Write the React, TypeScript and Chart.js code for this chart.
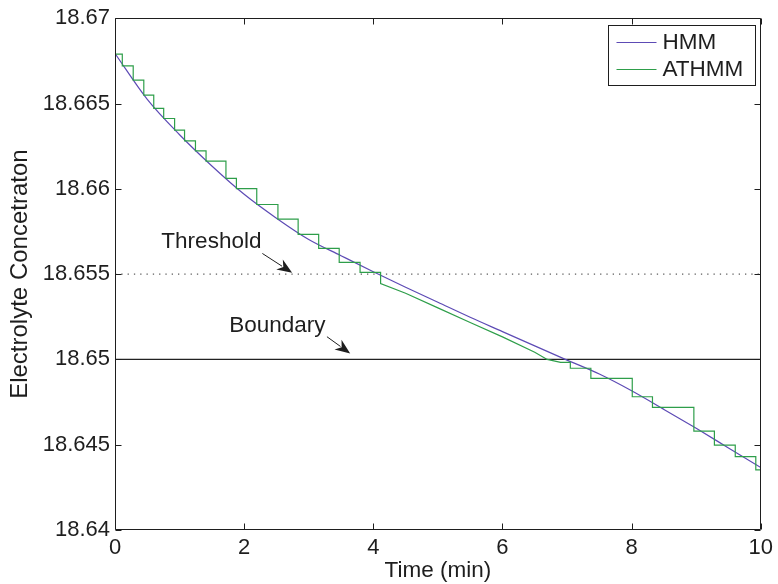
import React, { useEffect, useRef } from 'react';
import { Chart, registerables } from 'chart.js';

Chart.register(...registerables);

// ---------- data ----------
const hmmTime = [0, 0.5, 1, 1.5, 2, 2.5, 3, 3.5, 4, 4.5, 5, 5.5, 6, 6.5, 7, 7.5, 8, 8.5, 9, 9.5, 10];
const hmmValue = [
  18.66793, 18.66524, 18.66317, 18.66134, 18.65968, 18.65828, 18.65703, 18.65608, 18.65514, 18.65423,
  18.65335, 18.65247, 18.65163, 18.65079, 18.64996, 18.64914, 18.64816, 18.64707, 18.64596, 18.64481, 18.64366,
];

// ATHMM, phase 1: sample-and-hold updates (time of update, value after update)
const athmmStep1Time = [0, 0.113, 0.282, 0.446, 0.6, 0.754, 0.923, 1.077, 1.246, 1.41, 1.718, 1.88, 2.195, 2.523, 2.836, 3.154, 3.472, 3.795, 4.113];
const athmmStep1Value = [
  18.6679, 18.66721, 18.66637, 18.66549, 18.66471, 18.66412, 18.66344, 18.66281, 18.66222, 18.66162,
  18.66061, 18.66001, 18.65908, 18.65822, 18.65733, 18.65651, 18.65569, 18.6551, 18.65445,
];
// ATHMM, continuous tracking after the threshold
const athmmTrackTime = [4.5, 5, 5.5, 6, 6.5, 6.692, 6.9, 7.051];
const athmmTrackValue = [18.65388, 18.65302, 18.65216, 18.65132, 18.65042, 18.65, 18.64983, 18.64983];
// ATHMM, phase 2: sample-and-hold updates
const athmmStep2Time = [7.051, 7.369, 8.01, 8.323, 8.964, 9.282, 9.605, 9.923];
const athmmStep2Value = [18.64948, 18.64889, 18.64781, 18.64719, 18.6458, 18.64498, 18.6443, 18.64352];
const timeEnd = 10;

const thresholdValue = 18.655;
const boundaryValue = 18.65;

const xTickValues = [0, 2, 4, 6, 8, 10];
const xTickLabels = ['0', '2', '4', '6', '8', '10'];
const yTickValues = [18.64, 18.645, 18.65, 18.655, 18.66, 18.665, 18.67];
const yTickLabels = ['18.64', '18.645', '18.65', '18.655', '18.66', '18.665', '18.67'];

const seriesNames = ['HMM', 'ATHMM'];

// annotations (data coordinates)
const noteText = ['Threshold', 'Boundary'];
const noteTextTime = [0.718, 1.769];
const noteTextValue = [18.65651, 18.65162];
const noteArrowFromTime = [2.282, 3.282];
const noteArrowFromValue = [18.65621, 18.65133];
const noteArrowToTime = [2.743, 3.642];
const noteArrowToValue = [18.65508, 18.65035];

// ---------- styling ----------
const FONT = '"Liberation Sans", Arial, Helvetica, sans-serif';
const INK = '#1e1e1e';
const HMM_COLOR = '#5d4bb5';
const ATHMM_COLOR = '#2e9e4a';

function buildAthmm() {
  const pts: { x: number; y: number }[] = [];
  let prev = athmmStep1Value[0];
  pts.push({ x: athmmStep1Time[0], y: prev });
  for (let i = 1; i < athmmStep1Time.length; i++) {
    pts.push({ x: athmmStep1Time[i], y: prev });
    pts.push({ x: athmmStep1Time[i], y: athmmStep1Value[i] });
    prev = athmmStep1Value[i];
  }
  for (let i = 0; i < athmmTrackTime.length; i++) {
    pts.push({ x: athmmTrackTime[i], y: athmmTrackValue[i] });
    prev = athmmTrackValue[i];
  }
  for (let i = 0; i < athmmStep2Time.length; i++) {
    pts.push({ x: athmmStep2Time[i], y: prev });
    pts.push({ x: athmmStep2Time[i], y: athmmStep2Value[i] });
    prev = athmmStep2Value[i];
  }
  pts.push({ x: timeEnd, y: prev });
  return pts;
}

const framePlugin = {
  id: 'matlabFrame',
  afterDraw(chart: any) {
    const { ctx, chartArea: a } = chart;
    const xs = chart.scales.x;
    const ys = chart.scales.y;
    const L = Math.round(a.left) + 0.5;
    const R = Math.round(a.right) - 0.5;
    const T = Math.round(a.top) + 0.5;
    const B = Math.round(a.bottom) - 0.5;
    ctx.save();
    ctx.strokeStyle = INK;
    ctx.lineWidth = 1;
    // box
    ctx.beginPath();
    ctx.rect(L, T, R - L, B - T);
    ctx.stroke();
    // inward ticks
    const tl = 6;
    ctx.beginPath();
    xTickValues.forEach((v) => {
      const px = Math.round(xs.getPixelForValue(v)) + 0.5;
      ctx.moveTo(px, B);
      ctx.lineTo(px, B - tl);
      ctx.moveTo(px, T);
      ctx.lineTo(px, T + tl);
    });
    yTickValues.forEach((v) => {
      const py = Math.round(ys.getPixelForValue(v)) + 0.5;
      ctx.moveTo(L, py);
      ctx.lineTo(L + tl, py);
      ctx.moveTo(R, py);
      ctx.lineTo(R - tl, py);
    });
    ctx.stroke();

    // annotations
    ctx.fillStyle = INK;
    ctx.font = `22.5px ${FONT}`;
    ctx.textAlign = 'left';
    ctx.textBaseline = 'alphabetic';
    for (let i = 0; i < noteText.length; i++) {
      ctx.fillText(noteText[i], xs.getPixelForValue(noteTextTime[i]), ys.getPixelForValue(noteTextValue[i]));
      const x0 = xs.getPixelForValue(noteArrowFromTime[i]);
      const y0 = ys.getPixelForValue(noteArrowFromValue[i]);
      const x1 = xs.getPixelForValue(noteArrowToTime[i]);
      const y1 = ys.getPixelForValue(noteArrowToValue[i]);
      const len = Math.hypot(x1 - x0, y1 - y0);
      const dx = (x1 - x0) / len;
      const dy = (y1 - y0) / len;
      const hl = 15;
      const hw = 6;
      const bx = x1 - dx * hl;
      const by = y1 - dy * hl;
      ctx.beginPath();
      ctx.moveTo(x0, y0);
      ctx.lineTo(bx + dx * 3, by + dy * 3);
      ctx.stroke();
      ctx.beginPath();
      ctx.moveTo(x1, y1);
      ctx.lineTo(bx - dy * hw, by + dx * hw);
      ctx.lineTo(bx + dx * 4.5, by + dy * 4.5);
      ctx.lineTo(bx + dy * hw, by - dx * hw);
      ctx.closePath();
      ctx.fill();
    }

    // legend (top-right, inside the axes)
    const lw = 147;
    const lh = 60;
    const lx = Math.round(a.right) - 6 - lw + 0.5;
    const ly = Math.round(a.top) + 7 + 0.5;
    ctx.fillStyle = '#ffffff';
    ctx.fillRect(lx, ly, lw, lh);
    ctx.strokeStyle = INK;
    ctx.strokeRect(lx, ly, lw, lh);
    const colors = [HMM_COLOR, ATHMM_COLOR];
    const rows = [ly + 16.5, ly + 43.5];
    seriesNames.forEach((name, i) => {
      ctx.strokeStyle = colors[i];
      ctx.lineWidth = 1;
      ctx.beginPath();
      ctx.moveTo(lx + 8, Math.round(rows[i]) + 0.5);
      ctx.lineTo(lx + 48, Math.round(rows[i]) + 0.5);
      ctx.stroke();
      ctx.fillStyle = INK;
      ctx.font = `22.5px ${FONT}`;
      ctx.textBaseline = 'middle';
      ctx.fillText(name, lx + 54, rows[i] + 1);
    });
    ctx.restore();
  },
};

export default function App() {
  const ref = useRef<HTMLCanvasElement>(null);

  useEffect(() => {
    const canvas = ref.current;
    if (!canvas) return;
    const hmmData = hmmTime.map((t, i) => ({ x: t, y: hmmValue[i] }));
    const athmmData = buildAthmm();
    const chart = new Chart(canvas, {
      type: 'scatter',
      data: {
        datasets: [
          {
            label: 'Threshold',
            data: [
              { x: 0, y: thresholdValue },
              { x: timeEnd, y: thresholdValue },
            ],
            showLine: true,
            borderColor: '#333333',
            borderWidth: 1,
            borderDash: [1.3, 5],
            pointRadius: 0,
            order: 4,
          },
          {
            label: 'Boundary',
            data: [
              { x: 0, y: boundaryValue },
              { x: timeEnd, y: boundaryValue },
            ],
            showLine: true,
            borderColor: '#222222',
            borderWidth: 1.2,
            pointRadius: 0,
            order: 3,
          },
          {
            label: seriesNames[0],
            data: hmmData,
            showLine: true,
            borderColor: HMM_COLOR,
            borderWidth: 1.2,
            pointRadius: 0,
            cubicInterpolationMode: 'monotone',
            order: 2,
          },
          {
            label: seriesNames[1],
            data: athmmData,
            showLine: true,
            borderColor: ATHMM_COLOR,
            borderWidth: 1.2,
            pointRadius: 0,
            tension: 0,
            order: 1,
          },
        ],
      },
      options: {
        animation: false,
        responsive: false,
        events: [],
        layout: { padding: { left: 0, right: 13, top: 18, bottom: 0 } },
        plugins: {
          legend: { display: false },
          tooltip: { enabled: false },
        },
        scales: {
          x: {
            type: 'linear',
            min: 0,
            max: 10,
            afterBuildTicks: (s: any) => {
              s.ticks = xTickValues.map((v) => ({ value: v }));
            },
            afterFit: (s: any) => {
              s.height = 54;
            },
            grid: { display: false, drawTicks: false },
            border: { display: false },
            ticks: {
              padding: 5,
              color: INK,
              autoSkip: false,
              maxRotation: 0,
              font: { family: FONT, size: 22 },
              callback: (_v: any, i: number) => xTickLabels[i],
            },
            title: {
              display: true,
              text: 'Time (min)',
              color: INK,
              font: { family: FONT, size: 22.5 },
              padding: { top: 0, bottom: 0 },
            },
          },
          y: {
            type: 'linear',
            min: 18.64,
            max: 18.67,
            afterBuildTicks: (s: any) => {
              s.ticks = yTickValues.map((v) => ({ value: v }));
            },
            afterFit: (s: any) => {
              s.width = 115;
            },
            grid: { display: false, drawTicks: false },
            border: { display: false },
            ticks: {
              padding: 5,
              color: INK,
              autoSkip: false,
              font: { family: FONT, size: 22 },
              callback: (_v: any, i: number) => yTickLabels[i],
            },
            title: {
              display: true,
              text: 'Electrolyte Concetraton',
              color: INK,
              font: { family: FONT, size: 24 },
              padding: { top: 5.5, bottom: 0 },
            },
          },
        },
      },
      plugins: [framePlugin],
    } as any);
    return () => chart.destroy();
  }, []);

  return (
    <div style={{ position: 'fixed', left: 0, top: 0, width: 778, height: 584, background: '#ffffff' }}>
      <canvas ref={ref} width={778} height={584} style={{ display: 'block', width: 778, height: 584 }} />
    </div>
  );
}
